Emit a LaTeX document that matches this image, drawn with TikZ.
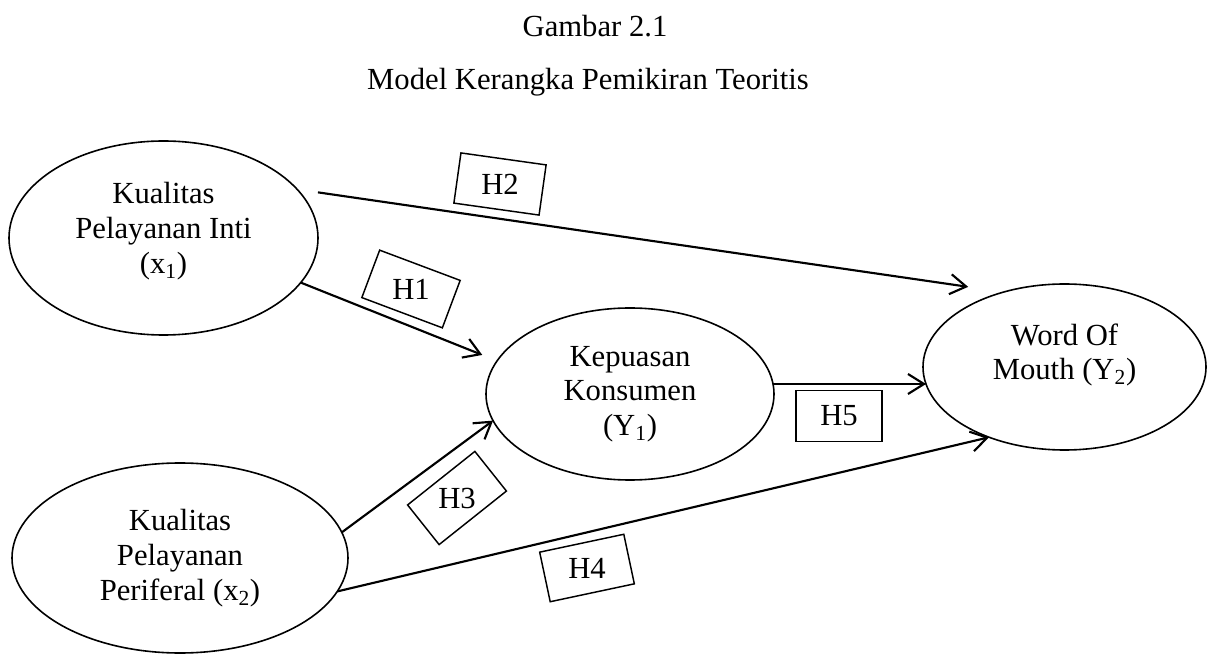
\documentclass[tikz,border=0pt]{standalone}
\usepackage{fontspec}
\setmainfont{Liberation Serif}
\usetikzlibrary{shapes.geometric,arrows.meta}

\begin{document}
\begin{tikzpicture}[x=0.75pt, y=-0.75pt,
  every node/.style={font=\fontsize{23}{26}\selectfont},
  var/.style={ellipse, draw, line width=1.2pt, inner sep=0pt, outer sep=0pt},
  hyp/.style={draw, line width=1.1pt, minimum width=64.5pt, minimum height=38pt, inner sep=0pt},
  link/.style={line width=1.6pt, -{Straight Barb[length=12pt,width=15pt]}}]
  \useasboundingbox (0,0) rectangle (1213,655);

  \node[anchor=base] (title) at (595,37) {Gambar 2.1};
  \node[anchor=base] (subtitle) at (588,90) {Model Kerangka Pemikiran Teoritis};

  \node[var, minimum width=231.75pt, minimum height=145.5pt] (A) at (163.5,238) {};
  \node[var, minimum width=216pt, minimum height=129pt] (B) at (630,394) {};
  \node[var, minimum width=212.25pt, minimum height=124.5pt] (C) at (1064.5,367) {};
  \node[var, minimum width=252pt, minimum height=142.5pt] (D) at (180,558) {};
  \node[align=center] (At) at (163.5,231) {Kualitas\\Pelayanan Inti\\(x\textsubscript{1})};
  \node[align=center] (Bt) at (630,394) {Kepuasan\\Konsumen\\(Y\textsubscript{1})};
  \node[align=center] (Ct) at (1064.5,355) {Word Of\\Mouth (Y\textsubscript{2})};
  \node[align=center] (Dt) at (180,558) {Kualitas\\Pelayanan\\Periferal (x\textsubscript{2})};

  \node[hyp, rotate=-20.6] (h1) at (411,289) {};
  \node[hyp, rotate=-8] (h2) at (500,184) {};
  \node[hyp, rotate=38.5] (h3) at (457,498) {};
  \node[hyp, rotate=12] (h4) at (587,568) {};
  \node[hyp] (h5) at (839,416) {};
  \node (l1) at (h1) {H1};
  \node (l2) at (h2) {H2};
  \node (l3) at (h3) {H3};
  \node (l4) at (h4) {H4};
  \node (l5) at (h5) {H5};

  \draw[link, shorten >=12pt] (A.342) -- (B.166);
  \draw[link, shorten <=15.75pt, shorten >=27pt] (A.20) -- (C.129);
  \draw[link] (D.9) -- (B.191);
  \draw[link] (D.348) -- (C.223);
  \draw[link] (B.4) -- (B.4 -| C.187);
\end{tikzpicture}
\end{document}
